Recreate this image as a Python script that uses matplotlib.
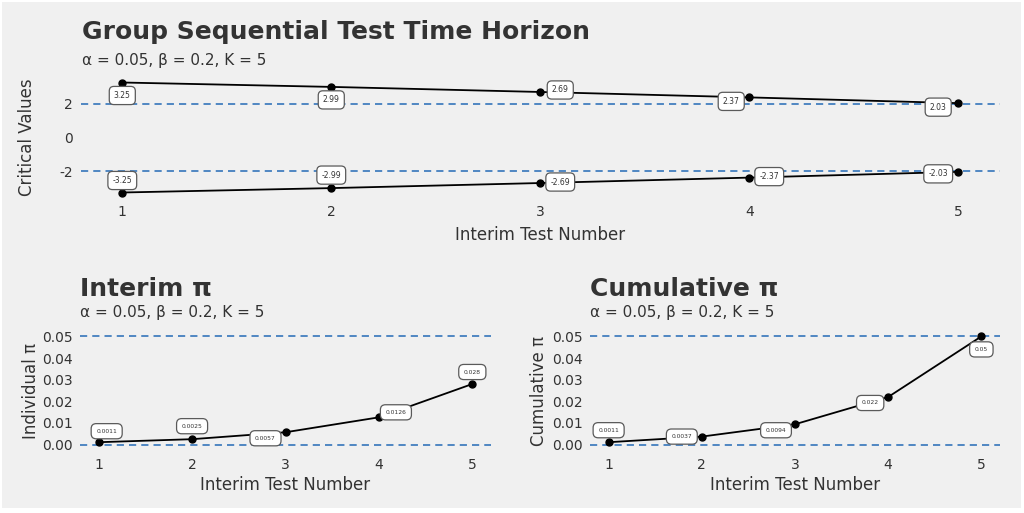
import matplotlib
matplotlib.use("Agg")
import matplotlib.pyplot as plt
from matplotlib.patches import Rectangle

plt.rcParams['font.family'] = ['DejaVu Sans']
plt.rcParams['axes.unicode_minus'] = False

tests = [1, 2, 3, 4, 5]
upper_crit = [3.25, 2.99, 2.69, 2.37, 2.03]
lower_crit = [-3.25, -2.99, -2.69, -2.37, -2.03]
upper_labels = ["3.25", "2.99", "2.69", "2.37", "2.03"]
lower_labels = ["-3.25", "-2.99", "-2.69", "-2.37", "-2.03"]
interim_pi = [0.0011, 0.0025, 0.0057, 0.0126, 0.028]
interim_labels = ["0.0011", "0.0025", "0.0057", "0.0126", "0.028"]
cum_pi = [0.0011, 0.0037, 0.0094, 0.022, 0.05]
cum_labels = ["0.0011", "0.0037", "0.0094", "0.022", "0.05"]
pi_ticks = [0.0, 0.01, 0.02, 0.03, 0.04, 0.05]
pi_tick_labels = ["0.00", "0.01", "0.02", "0.03", "0.04", "0.05"]
subtitle = "α = 0.05, β = 0.2, K = 5"

BG = '#f0f0f0'
TXT = '#333333'
DASH = '#4f87c2'

fig = plt.figure(figsize=(10.24, 5.13), dpi=100, facecolor='white')
fig.patches.append(Rectangle((2/1024, 5/513), 1019/1024, 506/513,
                             transform=fig.transFigure, facecolor=BG,
                             edgecolor='none', zorder=-10))

def px_ax(l, r, t, b):
    return fig.add_axes([l/1024, 1 - b/513, (r - l)/1024, (b - t)/513])

def style(ax, xpad, ypad):
    ax.set_facecolor(BG)
    for s in ax.spines.values():
        s.set_visible(False)
    ax.tick_params(length=0, colors=TXT, labelsize=10)
    ax.tick_params(axis='x', pad=xpad)
    ax.tick_params(axis='y', pad=ypad)

def annotate(ax, xs, ys, labels, offsets, fs, pad):
    for x, y, lab, off in zip(xs, ys, labels, offsets):
        ax.annotate(lab, (x, y), xytext=off, textcoords='offset pixels',
                    ha='center', va='center', fontsize=fs, color=TXT,
                    bbox=dict(boxstyle='round,pad=%s' % pad, fc='white',
                              ec='#5a5a5a', lw=0.9), zorder=5)

def dashed(ax, y):
    ax.axhline(y, color=DASH, ls='--', lw=1.4, dashes=(3.7, 2.6))

# Top axis
ax1 = px_ax(80.5, 1000, 77, 198)
style(ax1, 5, 5.5)
dashed(ax1, 2)
dashed(ax1, -2)
ax1.plot(tests, upper_crit, color='black', marker='o', ms=5, lw=1.3, zorder=4)
ax1.plot(tests, lower_crit, color='black', marker='o', ms=5, lw=1.3, zorder=4)
ax1.set_xlim(0.8, 5.2)
ax1.set_ylim(-3.575, 3.575)
ax1.set_yticks([-2, 0, 2])
ax1.set_xticks(tests)
ax1.set_xlabel("Interim Test Number", fontsize=12, color=TXT, labelpad=5)
ax1.set_ylabel("Critical Values", fontsize=12, color=TXT)
ax1.yaxis.set_label_coords(-0.048, 0.5)
annotate(ax1, tests, upper_crit, upper_labels,
         [(0, -13), (0, -13), (20, 2), (-18, -4), (-20, -4)], 5.5, 0.6)
annotate(ax1, tests, lower_crit, lower_labels,
         [(0, 12), (0, 13), (20, 1), (20, 1), (-20, -2)], 5.5, 0.6)
fig.text(82/1024, 1 - 32/513, "Group Sequential Test Time Horizon",
         fontsize=18, fontweight='bold', color=TXT, va='center', ha='left')
fig.text(82/1024, 1 - 61/513, subtitle, fontsize=11, color=TXT,
         va='center', ha='left')

# Bottom left
ax2 = px_ax(80, 491, 331, 450)
style(ax2, 5.5, 5)
dashed(ax2, 0.0)
dashed(ax2, 0.05)
ax2.plot(tests, interim_pi, color='black', marker='o', ms=5, lw=1.3, zorder=4)
ax2.set_xlim(0.8, 5.2)
ax2.set_ylim(-0.0025, 0.0525)
ax2.set_xticks(tests)
ax2.set_yticks(pi_ticks)
ax2.set_yticklabels(pi_tick_labels)
ax2.set_xlabel("Interim Test Number", fontsize=12, color=TXT, labelpad=3)
ax2.set_ylabel("Individual π", fontsize=12, color=TXT)
ax2.yaxis.set_label_coords(-0.097, 0.5)
annotate(ax2, tests, interim_pi, interim_labels,
         [(8, 11), (0, 13), (-20, -6), (17, 5), (0, 12)], 4.3, 0.85)
fig.text(80/1024, 1 - 289/513, "Interim π", fontsize=18, fontweight='bold',
         color=TXT, va='center', ha='left')
fig.text(80/1024, 1 - 313/513, subtitle, fontsize=11, color=TXT,
         va='center', ha='left')

# Bottom right
ax3 = px_ax(590, 1000, 331, 450)
style(ax3, 5.5, 5)
dashed(ax3, 0.0)
dashed(ax3, 0.05)
ax3.plot(tests, cum_pi, color='black', marker='o', ms=5, lw=1.3, zorder=4)
ax3.set_xlim(0.8, 5.2)
ax3.set_ylim(-0.0025, 0.0525)
ax3.set_xticks(tests)
ax3.set_yticks(pi_ticks)
ax3.set_yticklabels(pi_tick_labels)
ax3.set_xlabel("Interim Test Number", fontsize=12, color=TXT, labelpad=3)
ax3.set_ylabel("Cumulative π", fontsize=12, color=TXT)
ax3.yaxis.set_label_coords(-0.102, 0.5)
annotate(ax3, tests, cum_pi, cum_labels,
         [(0, 12), (-20, 0), (-19, -6), (-18, -6), (0, -13)], 4.3, 0.85)
fig.text(590/1024, 1 - 289/513, "Cumulative π", fontsize=18, fontweight='bold',
         color=TXT, va='center', ha='left')
fig.text(590/1024, 1 - 313/513, subtitle, fontsize=11, color=TXT,
         va='center', ha='left')

fig.savefig("out.png", dpi=100, facecolor='white')
